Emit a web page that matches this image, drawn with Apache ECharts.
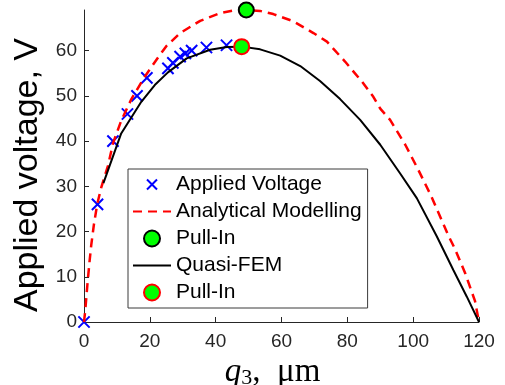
<!DOCTYPE html>
<html><head><meta charset="utf-8">
<script src="https://cdn.jsdelivr.net/npm/echarts@6/dist/echarts.min.js"></script>
<style>html,body{margin:0;padding:0;background:#fff}#c{width:505px;height:385px}</style>
</head><body><div id="c"></div>
<script>
// ---- data ----
const xTicks = [0, 20, 40, 60, 80, 100, 120];
const yTicks = [0, 10, 20, 30, 40, 50, 60];
const yMax = 69;

const appliedQ = [0, 4.1, 8.8, 13.2, 16.1, 19.1, 25.5, 27.0, 29.2, 30.8, 32.7, 37.2, 43.3];
const appliedV = [0, 26.0, 40.0, 46.0, 50.0, 54.0, 56.1, 57.3, 58.7, 59.4, 60.0, 60.7, 61.2];

const analyticalQ = [0, 0.4, 1.0, 1.7, 2.2, 3.0, 4.0, 5.3, 7.3, 8.8, 11.3, 14.4, 18.4, 22.5, 25.0, 29.2, 35.3, 41.3, 45.5, 49.3, 53.5, 57.5, 63.6, 69.7, 73.8, 79.3, 84.4, 87.9, 90.0, 93.0, 97.6, 101.6, 105.5, 110.7, 112.6, 115.8, 118.8, 120];
const analyticalV = [0, 2.7, 8.0, 13.5, 17.0, 21.5, 26.0, 29.9, 34.6, 39.5, 44.5, 49.3, 54.2, 58.5, 61.0, 63.9, 66.6, 68.3, 68.9, 69.0, 68.8, 68.1, 66.5, 63.9, 62.0, 57.6, 53.2, 49.8, 47.2, 44.7, 39.2, 33.6, 27.8, 19.1, 16.3, 10.8, 4.6, 0];

const quasiQ = [5.9, 11.3, 17.4, 21.5, 25.5, 31.2, 38.3, 43.4, 47.9, 53.5, 59.6, 65.7, 71.7, 77.8, 83.9, 90.0, 96.0, 101.1, 107.2, 112.2, 116.3, 120];
const quasiV = [30.7, 41.7, 48.7, 52.4, 55.2, 58.3, 60.2, 60.8, 60.9, 60.3, 58.9, 56.6, 53.3, 49.3, 44.7, 39.2, 32.9, 27.4, 18.9, 11.5, 5.6, 0];

const pullInAnalyticalQ = [49.3];
const pullInAnalyticalV = [69.0];
const pullInQuasiQ = [47.9];
const pullInQuasiV = [60.9];

const names = ['Applied Voltage', 'Analytical Modelling', 'Pull-In', 'Quasi-FEM', 'Pull-In '];

// ---- build ----
const pairs = (xs, ys) => xs.map((x, i) => [x, ys[i]]);
const axisColor = '#262626';
const font = 'Liberation Sans, Arial, sans-serif';
const serif = 'Liberation Serif, serif';
const crossPath = 'path://M-3,-3M13,13M0,0L10,10M10,0L0,10';

const chart = echarts.init(document.getElementById('c'), null, {renderer: 'canvas'});
chart.setOption({
  animation: false,
  backgroundColor: '#fff',
  grid: {left: 84, right: 26, top: 10, bottom: 63, containLabel: false, outerBoundsMode: 'none'},
  xAxis: {
    type: 'value',
    min: xTicks[0], max: xTicks[xTicks.length - 1], interval: xTicks[1] - xTicks[0],
    splitLine: {show: false},
    axisLine: {onZero: false, lineStyle: {color: axisColor, width: 1}},
    axisTick: {inside: true, length: 5, lineStyle: {color: axisColor}},
    axisLabel: {fontSize: 19, color: axisColor, fontFamily: font, margin: 10},
    name: '{q|q}{s|3}{t|,  μm}',
    nameLocation: 'middle',
    nameGap: 24,
    nameTextStyle: {
      padding: [0, 18, 0, 0],
      rich: {
        q: {fontSize: 33, fontFamily: serif, fontStyle: 'italic', color: '#000', lineHeight: 34},
        s: {fontSize: 22, fontFamily: serif, color: '#000', lineHeight: 18, verticalAlign: 'bottom'},
        t: {fontSize: 33, fontFamily: serif, color: '#000', lineHeight: 34}
      }
    }
  },
  yAxis: {
    type: 'value',
    min: yTicks[0], max: yMax, interval: yTicks[1] - yTicks[0],
    splitLine: {show: false},
    axisLine: {onZero: false, lineStyle: {color: axisColor, width: 1}},
    axisTick: {inside: true, length: 5, lineStyle: {color: axisColor}},
    axisLabel: {fontSize: 19, color: axisColor, fontFamily: font, margin: 7, showMaxLabel: false},
    name: 'Applied voltage, V',
    nameLocation: 'middle',
    nameGap: 35,
    nameTextStyle: {fontSize: 34, fontFamily: font, color: '#000', padding: [0, 18, 0, 0]}
  },
  legend: {
    orient: 'vertical',
    left: 128, top: 169,
    padding: [5, 6, 5, 4],
    itemGap: 6,
    itemWidth: 38,
    itemHeight: 16,
    backgroundColor: '#fff',
    borderColor: '#3a3a3a',
    borderWidth: 1,
    borderRadius: 0,
    textStyle: {fontSize: 21, color: '#000', fontFamily: font},
    data: [
      {name: names[0]},
      {name: names[1], itemStyle: {opacity: 0}},
      {name: names[2]},
      {name: names[3], itemStyle: {opacity: 0}},
      {name: names[4]}
    ]
  },
  series: [
    {
      name: names[0], type: 'scatter', data: pairs(appliedQ, appliedV),
      symbol: crossPath, symbolSize: 18, clip: false,
      itemStyle: {color: 'rgba(0,0,0,0)', borderColor: '#0000ff', borderWidth: 2, opacity: 1},
      z: 2
    },
    {
      name: names[1], type: 'line', data: pairs(analyticalQ, analyticalV),
      showSymbol: false, symbol: 'none', clip: false,
      lineStyle: {color: '#ff0000', width: 2.5, type: [9, 6]},
      itemStyle: {color: '#ff0000', opacity: 0},
      z: 3
    },
    {
      name: names[2], type: 'scatter', data: pairs(pullInAnalyticalQ, pullInAnalyticalV),
      symbol: 'circle', symbolSize: 15, clip: false,
      itemStyle: {color: '#00ff00', borderColor: '#000000', borderWidth: 2, opacity: 1},
      z: 4
    },
    {
      name: names[3], type: 'line', data: pairs(quasiQ, quasiV),
      showSymbol: false, symbol: 'none', clip: false,
      lineStyle: {color: '#000000', width: 2},
      itemStyle: {color: '#000000', opacity: 0},
      z: 5
    },
    {
      name: names[4], type: 'scatter', data: pairs(pullInQuasiQ, pullInQuasiV),
      symbol: 'circle', symbolSize: 15, clip: false,
      itemStyle: {color: '#00ff00', borderColor: '#ff0000', borderWidth: 2, opacity: 1},
      z: 6
    }
  ]
});
</script>
</body></html>
